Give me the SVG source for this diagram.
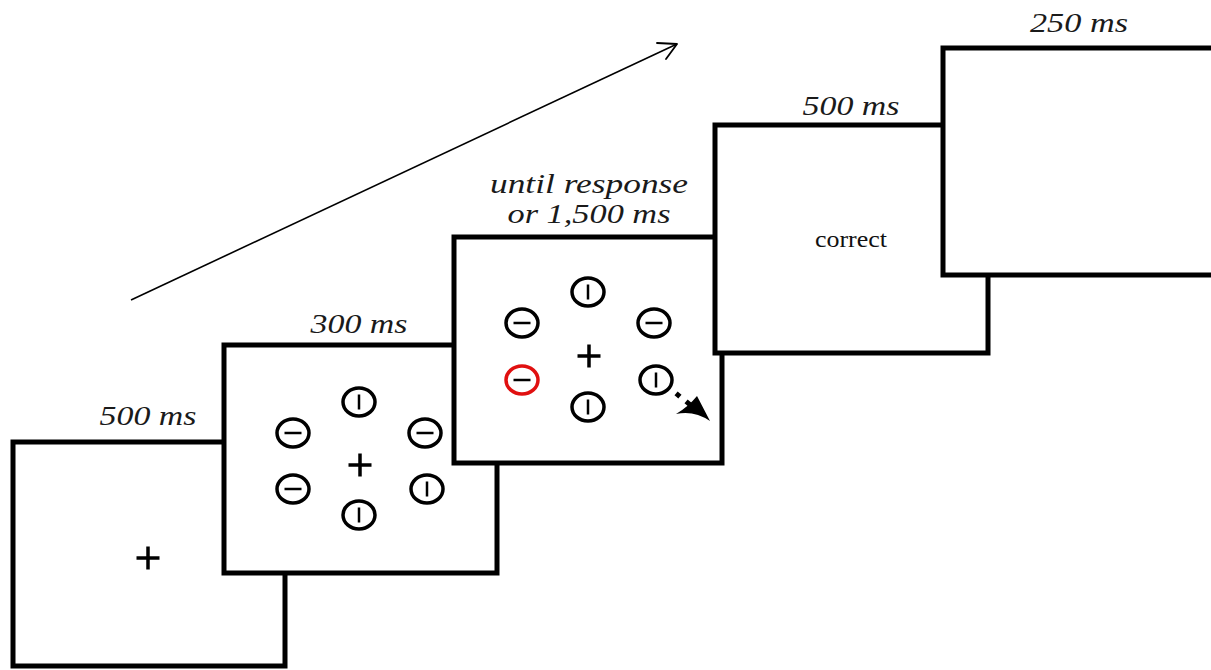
<svg xmlns="http://www.w3.org/2000/svg" width="1211" height="670" viewBox="0 0 1211 670">
<style>
.panel{fill:#fff;stroke:#000;stroke-width:5}
.lbl{font-family:Tinos,"Liberation Serif","Nimbus Roman","Nimbus Roman No9 L",Times,"Times New Roman","FreeSerif","Noto Serif",serif;font-style:italic;font-size:28px;fill:#1a1a1a}
.txt{font-family:Tinos,"Liberation Serif","Nimbus Roman","Nimbus Roman No9 L",Times,"Times New Roman","FreeSerif","Noto Serif",serif;font-size:24px;fill:#111}
.stim{fill:none;stroke:#000;stroke-width:3.5}
.bar{stroke:#000;stroke-width:2.5}
.fix{stroke:#000;stroke-width:3.5}
</style>
<defs>
<g id="h"><ellipse class="stim" cx="0" cy="0" rx="16" ry="14"/><line class="bar" x1="-8.5" y1="0" x2="8.5" y2="0"/></g>
<g id="v"><ellipse class="stim" cx="0" cy="0" rx="16" ry="14"/><line class="bar" x1="0" y1="-7.5" x2="0" y2="7.5"/></g>
<g id="plus"><line class="fix" x1="-11.5" y1="0" x2="11.5" y2="0"/><line class="fix" x1="0" y1="-11.5" x2="0" y2="11.5"/></g>
</defs>
<g id="connectors">
<line x1="131" y1="300" x2="677" y2="44" stroke="#000" stroke-width="1.6"/>
<polyline points="657,43 677,44 666,59" fill="none" stroke="#000" stroke-width="1.8" stroke-linecap="round" stroke-linejoin="round"/>
</g>
<g id="panel1">
<rect class="panel" x="13" y="442" width="272" height="224"/>
<use href="#plus" x="148" y="558"/>
<text class="lbl" x="148" y="425" text-anchor="middle" textLength="97" lengthAdjust="spacingAndGlyphs">500 ms</text>
</g>
<g id="panel2">
<rect class="panel" x="224" y="345" width="273" height="228"/>
<text class="lbl" x="359" y="333" text-anchor="middle" textLength="97" lengthAdjust="spacingAndGlyphs">300 ms</text>
<use href="#v" x="359" y="402"/>
<use href="#h" x="293" y="433"/>
<use href="#h" x="425" y="433"/>
<use href="#h" x="293" y="489"/>
<use href="#v" x="427" y="489"/>
<use href="#v" x="359" y="515"/>
<use href="#plus" x="360" y="465"/>
</g>
<g id="panel3">
<rect class="panel" x="454" y="237" width="268" height="226"/>
<text class="lbl" x="589" y="193" text-anchor="middle" textLength="198" lengthAdjust="spacingAndGlyphs">until response</text>
<text class="lbl" x="589" y="223" text-anchor="middle" textLength="163" lengthAdjust="spacingAndGlyphs">or 1,500 ms</text>
<use href="#v" x="588" y="292"/>
<use href="#h" x="522" y="323"/>
<use href="#h" x="654" y="323"/>
<ellipse cx="522" cy="380" rx="16" ry="14" fill="none" stroke="#e01010" stroke-width="3.5"/>
<line class="bar" x1="513.5" y1="380" x2="530.5" y2="380"/>
<use href="#v" x="656" y="380"/>
<use href="#v" x="588" y="407"/>
<use href="#plus" x="589" y="356"/>
<rect x="675.5" y="392.5" width="5" height="5" transform="rotate(40 678 395)" fill="#000"/>
<rect x="685.5" y="400.5" width="5" height="5" transform="rotate(40 688 403)" fill="#000"/>
<path d="M676,414 Q688,407 697,396 L710,421 Q694,410 676,414 Z" fill="#000"/>
</g>
<g id="panel4">
<rect class="panel" x="715" y="125" width="273" height="228"/>
<text class="lbl" x="851" y="115" text-anchor="middle" textLength="97" lengthAdjust="spacingAndGlyphs">500 ms</text>
<text class="txt" x="851" y="247" text-anchor="middle" textLength="72" lengthAdjust="spacingAndGlyphs">correct</text>
</g>
<g id="panel5">
<rect class="panel" x="943" y="48" width="290" height="227"/>
<text class="lbl" x="1079" y="32" text-anchor="middle" textLength="98" lengthAdjust="spacingAndGlyphs">250 ms</text>
</g>
</svg>
